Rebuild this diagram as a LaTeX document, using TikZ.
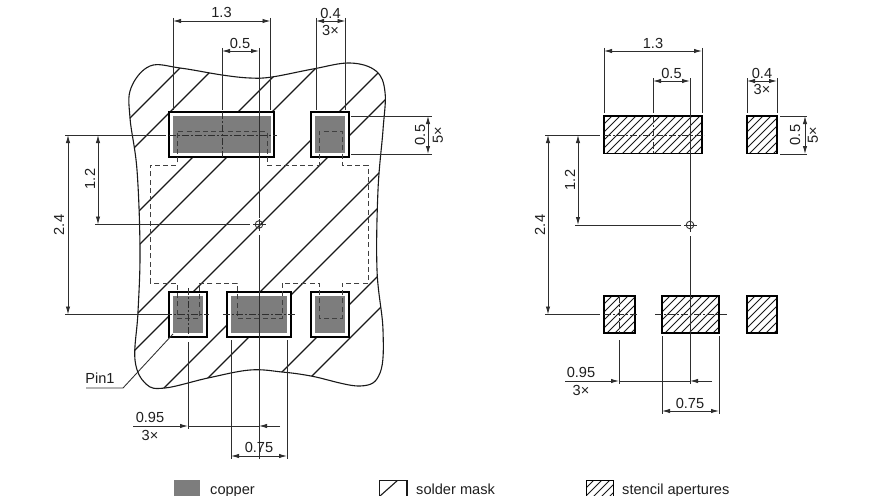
\documentclass[tikz,border=0pt]{standalone}
\usepackage{fontspec}
\setmainfont{Liberation Sans}
\usetikzlibrary{arrows.meta}
\definecolor{copperc}{gray}{0.49}
\definecolor{dimc}{gray}{0.18}
\tikzset{
  txt/.style={inner sep=0pt,font=\fontsize{14.6}{14.6}\selectfont,text=black!88},
  ext/.style={draw=dimc,line width=0.85pt},
  dimln/.style={draw=dimc,line width=0.85pt,{Latex[length=8pt,width=4.4pt]}-{Latex[length=8pt,width=4.4pt]}},
  tipend/.style={draw=dimc,line width=0.85pt,-{Latex[length=8pt,width=4.4pt]}},
  chain/.style={draw=dimc,line width=0.75pt,dash pattern=on 7pt off 2pt on 2pt off 2pt},
  pkg/.style={draw=black!75,line width=0.85pt,dash pattern=on 5pt off 3.2pt},
  padouter/.style={draw=black,line width=1.7pt,fill=white},
  copperfill/.style={fill=copperc,draw=none},
  mask/.style={draw=black!90,line width=1.1pt},
  hatchl/.style={draw=black!90,line width=1.1pt},
  stenc/.style={draw=black!90,line width=0.85pt},
  stencbox/.style={draw=black,line width=1.4pt},
}
\newcommand{\stencilpad}[4]{%
  \begin{scope}
    \clip (#1,#2) rectangle (#3,#4);
    \pgfmathsetmacro{\hsa}{#1+#2}
    \pgfmathsetmacro{\hsb}{#1+#2+8}
    \pgfmathsetmacro{\hse}{#3+#4}
    \foreach \c in {\hsa,\hsb,...,\hse} {\draw[stenc] ({\c-#2+2},{#2-2}) -- ({\c-#4-2},{#4+2});}
  \end{scope}
  \draw[stencbox] (#1,#2) rectangle (#3,#4);
}
\newcommand{\landpad}[8]{%
  \draw[padouter] (#1,#2) rectangle (#3,#4);
  \fill[copperfill] (#5,#6) rectangle (#7,#8);
}
\begin{document}
\begin{tikzpicture}[x=1pt,y=-1pt]
\useasboundingbox (0,0) rectangle (880,495);
\clip (0,0) rectangle (880,495);
\fill[white] (0,0) rectangle (880,495);

% solder-mask blob with hatching
\def\blob{plot[smooth cycle,tension=0.62] coordinates {
 (150,66) (180,68) (222,75) (250,78) (272,77) (313,69) (350,63) (376,71) (385,92)
 (383,130) (378,190) (377,270) (383,330) (380,373) (360,386) (311,376) (282,372) (250,370)
 (208,378) (165,388) (146,384) (135,360) (138,312) (140,250) (137,170) (130,118) (131,88)}}
\begin{scope}
  \clip \blob;
  \foreach \c in {248,282,350,384,451,485,552,586,654,688} {\draw[hatchl] ({\c-50},50) -- ({\c-400},400);}
\end{scope}
\draw[mask] \blob;

% lands
\landpad{169}{112}{274}{157}{173}{116}{271}{153}
\landpad{311}{112}{349}{157}{315}{116}{345}{153}
\landpad{169}{292}{207}{337}{173}{296}{203}{333}
\landpad{227}{292}{291}{337}{231}{296}{287}{333}
\landpad{311}{292}{349}{337}{315}{296}{345}{333}

% package / stencil dashed outline
\draw[pkg] (150,283) -- (150,165) -- (177,165) -- (177,131) -- (267,131) -- (267,165) -- (319,165)
  -- (319,131) -- (342,131) -- (342,165) -- (368,165) -- (368,283) -- (342,283) -- (342,318)
  -- (319,318) -- (319,283) -- (282,283) -- (282,318) -- (237,318) -- (237,283) -- (199,283)
  -- (199,318) -- (177,318) -- (177,283) -- cycle;

% left view: centre marker and centre lines
\draw[ext] (253,224.5) -- (266,224.5) (259,218.5) -- (259,231);
\draw[ext] (259,224.5) circle (3.8);
\draw[ext] (95,224.5) -- (250,224.5);
\draw[ext] (259,48) -- (259,218) (259,235) -- (259,459);
\draw[ext] (65,135) -- (166,135);
\draw[chain] (169,135) -- (277,135);
\draw[ext] (65,314.5) -- (165,314.5);
\draw[chain] (165,314.5) -- (209,314.5);
\draw[chain] (223,314.5) -- (295,314.5);
\draw[chain] (222,112) -- (222,157);
\draw[ext] (222,48) -- (222,110);
\draw[chain] (188,288) -- (188,337);
\draw[ext] (188,342) -- (188,429);
% extension lines
\draw[ext] (173,18) -- (173,110) (270.5,18) -- (270.5,110);
\draw[ext] (316,18) -- (316,110) (345.5,18) -- (345.5,110);
\draw[ext] (351,116) -- (432,116) (351,154) -- (432,154);
\draw[ext] (231,340) -- (231,459) (287,340) -- (287,459);
% dimensions
\draw[dimln] (173,21) -- (270.5,21);
\draw[dimln] (222,51) -- (259,51);
\draw[dimln] (316,21) -- (345.5,21);
\draw[dimln] (428,116) -- (428,154);
\draw[dimln] (68,135) -- (68,314.5);
\draw[dimln] (98,135) -- (98,224.5);
\draw[tipend] (133,426) -- (188,426);
\draw[ext] (188,426) -- (259,426);
\draw[tipend] (280,426) -- (259,426);
\draw[dimln] (231,456) -- (287,456);
% Pin1 leader
\coordinate (pinend) at (173,334);
\node[txt] (pintxt) at (100,378) {Pin1};
\coordinate (pinbend) at (123,388);
\coordinate (pinstart) at (86,388);
\draw[ext] (pinstart) -- (pinbend) -- (pinend);
% left labels
\node[txt] (a1) at (221.5,12.5) {1.3};
\node[txt] (a2) at (240,43) {0.5};
\node[txt] (a3) at (330.5,13) {0.4};
\node[txt] (a4) at (330.5,30) {3×};
\node[txt,rotate=90] (a5) at (420,135) {0.5};
\node[txt,rotate=90] (a6) at (438,135) {5×};
\node[txt,rotate=90] (a7) at (59,225) {2.4};
\node[txt,rotate=90] (a8) at (90,179) {1.2};
\node[txt] (a9) at (150,417) {0.95};
\node[txt] (a10) at (150,435) {3×};
\node[txt] (a11) at (259,447.5) {0.75};

% right view: stencil apertures
\stencilpad{604}{116}{702}{153.5}
\stencilpad{747}{116}{777}{153.5}
\stencilpad{604}{296}{635}{333}
\stencilpad{662}{296}{719}{333}
\stencilpad{747}{296}{777}{333}
% right centre lines
\draw[ext] (684,225) -- (697,225) (690,219) -- (690,231.5);
\draw[ext] (690,225) circle (3.8);
\draw[ext] (575,225) -- (681,225);
\draw[ext] (690,78) -- (690,219) (690,236) -- (690,384);
\draw[ext] (545,135) -- (600,135);
\draw[chain] (604,135) -- (704,135);
\draw[ext] (545,314.5) -- (600,314.5);
\draw[chain] (604,314.5) -- (637,314.5);
\draw[chain] (655,314.5) -- (727,314.5);
\draw[ext] (653,78) -- (653,113);
\draw[chain] (653,116) -- (653,154);
\draw[chain] (619,296) -- (619,333);
\draw[ext] (619,340) -- (619,384);
% right extension lines
\draw[ext] (604,48) -- (604,113) (702,48) -- (702,113);
\draw[ext] (747,78) -- (747,113) (777,78) -- (777,113);
\draw[ext] (780,116) -- (807,116) (780,154) -- (807,154);
\draw[ext] (662,336) -- (662,414) (719,336) -- (719,414);
% right dimensions
\draw[dimln] (604,51) -- (702,51);
\draw[dimln] (653,81) -- (690,81);
\draw[dimln] (747,81) -- (777,81);
\draw[dimln] (805,116) -- (805,154);
\draw[dimln] (578,135) -- (578,225);
\draw[dimln] (548,135) -- (548,314.5);
\draw[tipend] (565,381) -- (619,381);
\draw[ext] (619,381) -- (690,381);
\draw[tipend] (712,381) -- (690,381);
\draw[dimln] (662,411) -- (719,411);
% right labels
\node[txt] (b1) at (653,43) {1.3};
\node[txt] (b2) at (671.5,73) {0.5};
\node[txt] (b3) at (762,73) {0.4};
\node[txt] (b4) at (762,89) {3×};
\node[txt,rotate=90] (b5) at (795,135) {0.5};
\node[txt,rotate=90] (b6) at (813,135) {5×};
\node[txt,rotate=90] (b7) at (540,225) {2.4};
\node[txt,rotate=90] (b8) at (570,180) {1.2};
\node[txt] (b9) at (581,372) {0.95};
\node[txt] (b10) at (581,390) {3×};
\node[txt] (b11) at (690,403) {0.75};

% legend
\fill[copperfill] (174,480) rectangle (200,500);
\node[txt,anchor=base west] (l1) at (210,494.5) {copper};
\draw[hatchl] (379.5,500) -- (379.5,480.5) -- (407,480.5) -- (407,500);
\begin{scope}
 \clip (379,480) rectangle (407,500);
 \draw[hatchl] (380,496) -- (398,480);
\end{scope}
\node[txt,anchor=base west] (l2) at (416,494.5) {solder mask};
\begin{scope}
 \clip (586,480) rectangle (613,500);
 \foreach \c in {1066,1074,...,1120} {\draw[stenc] ({\c-478},478) -- ({\c-500},500);}
\end{scope}
\draw[stencbox,line width=0.9pt] (586,500) -- (586,480.5) -- (613,480.5) -- (613,500);
\node[txt,anchor=base west] (l3) at (622,494.5) {stencil apertures};
\end{tikzpicture}
\end{document}
